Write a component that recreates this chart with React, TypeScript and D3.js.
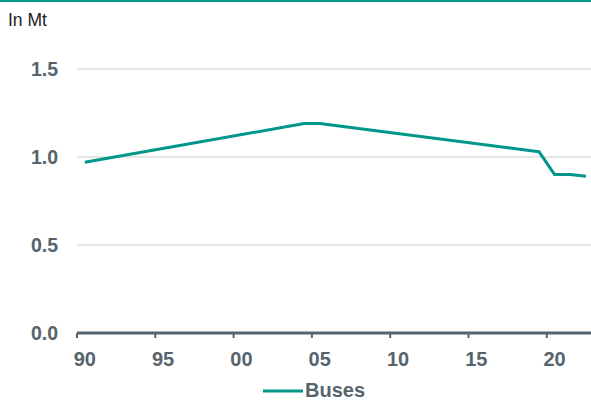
import React from 'react';
import * as d3 from 'd3';

// values in Mt
const years = [1990, 2004, 2005, 2019, 2020, 2021, 2022];
const buses = [0.97, 1.19, 1.19, 1.03, 0.9, 0.9, 0.89];
const tickYears = [1990, 1995, 2000, 2005, 2010, 2015, 2020];
const tickLabels = ['90', '95', '00', '05', '10', '15', '20'];
const yTicks = [0, 0.5, 1.0, 1.5];
const seriesName = 'Buses';
const unitLabel = 'In Mt';

const allYears = d3.range(1990, 2023);

export default function App() {
  const width = 591;
  const height = 401;
  const left = 77;
  const right = 591;
  const top = 69;
  const bottom = 333;

  const x = d3.scaleBand<number>().domain(allYears).range([left, left + allYears.length * 15.66]);
  const y = d3.scaleLinear().domain([0, 1.5]).range([bottom, top]);

  const line = d3
    .line<number>()
    .x((d, i) => x(years[i])! + x.bandwidth() / 2)
    .y((d) => y(d));

  const grey = '#56646e';
  const teal = '#00968a';

  return (
    <svg
      width={width}
      height={height}
      style={{ position: 'absolute', left: 0, top: 0, fontFamily: 'Liberation Sans, Arial, sans-serif' }}
    >
      <line x1={0} x2={width} y1={1} y2={1} stroke={teal} strokeWidth={2} />
      <text x={8} y={26} fontSize={17.5} fill="#222">
        {unitLabel}
      </text>

      {yTicks.map((t) => (
        <g key={t}>
          {t > 0 && <line x1={left} x2={right} y1={y(t)} y2={y(t)} stroke="#dcdcdc" strokeWidth={1.5} />}
          <text x={58} y={y(t)} dy="0.36em" textAnchor="end" fontSize={19.5} fontWeight="bold" fill={grey}>
            {t.toFixed(1)}
          </text>
        </g>
      ))}

      <path d={line(buses) || ''} fill="none" stroke={teal} strokeWidth={3} strokeLinejoin="round" />

      <line x1={left} x2={right} y1={bottom} y2={bottom} stroke={grey} strokeWidth={3} />
      {tickYears.map((yr, i) => (
        <g key={yr}>
          <line x1={x(yr)!} x2={x(yr)!} y1={bottom} y2={bottom + 5} stroke={grey} strokeWidth={2} />
          <text x={x(yr)! + x.bandwidth() / 2} y={366} textAnchor="middle" fontSize={20} fontWeight="bold" fill={grey}>
            {tickLabels[i]}
          </text>
        </g>
      ))}

      <line x1={263} x2={303} y1={391} y2={391} stroke={teal} strokeWidth={3} />
      <text x={305} y={397} fontSize={20} fontWeight="bold" fill={grey}>
        {seriesName}
      </text>
    </svg>
  );
}
